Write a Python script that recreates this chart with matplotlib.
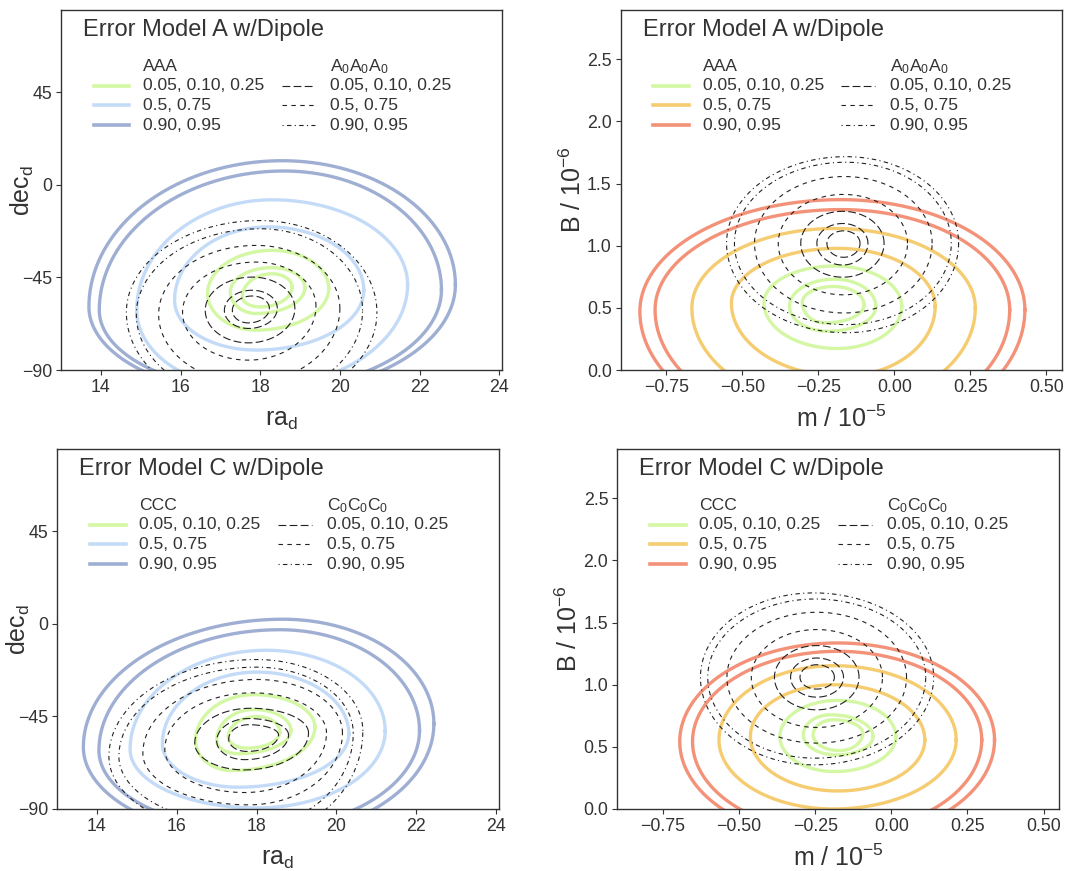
import numpy as np
import matplotlib
matplotlib.use('Agg')
import matplotlib.pyplot as plt

plt.rcParams['font.family'] = 'Liberation Sans'
plt.rcParams['mathtext.fontset'] = 'custom'
plt.rcParams['mathtext.rm'] = 'Liberation Sans'
plt.rcParams['mathtext.it'] = 'Liberation Sans:italic'

# credible levels of the contours, inner to outer
levels = [0.05, 0.10, 0.25, 0.5, 0.75, 0.90, 0.95]

# each contour read off the picture as its four extreme points:
# xl, yl (left), xr, yr (right), xt, yt (top), xb, yb (bottom)
A_radec_solid = [
    [17.55, -54.5, 18.80, -49.6, 18.30, -43.2, 18.00, -59.3],
    [17.25, -52.0, 19.12, -50.0, 18.30, -40.2, 17.90, -62.5],
    [16.68, -52.8, 19.72, -50.4, 18.30, -31.8, 17.90, -70.6],
    [15.85, -56.1, 20.60, -51.2, 18.20, -20.4, 17.90, -80.3],
    [14.90, -60.9, 21.70, -48.5, 18.30, -7.2, 17.80, -99.0],
    [13.96, -60.9, 22.55, -51.0, 18.60, 6.8, 18.00, -100.0],
    [13.70, -59.3, 22.90, -48.5, 18.55, 11.8, 18.00, -102.0],
]
A_radec_dash = [
    [17.30, -61.0, 18.23, -60.0, 17.80, -54.0, 17.70, -67.1],
    [17.10, -61.0, 18.43, -60.0, 17.80, -51.2, 17.70, -69.8],
    [16.62, -61.0, 18.87, -60.0, 17.80, -44.8, 17.70, -76.8],
    [16.05, -62.0, 19.40, -59.0, 17.90, -37.5, 17.70, -85.2],
    [15.45, -63.0, 20.00, -60.0, 17.90, -29.4, 17.70, -96.0],
    [14.89, -63.0, 20.57, -61.0, 18.00, -21.3, 17.70, -104.0],
    [14.64, -62.0, 20.93, -62.0, 18.00, -17.3, 17.70, -108.0],
]
A_mB_solid = [
    [-0.303, 0.544, -0.100, 0.525, -0.200, 0.672, -0.229, 0.379],
    [-0.345, 0.512, -0.061, 0.512, -0.197, 0.731, -0.218, 0.312],
    [-0.429, 0.539, 0.024, 0.512, -0.197, 0.837, -0.187, 0.173],
    [-0.536, 0.539, 0.134, 0.512, -0.187, 0.979, -0.170, -0.050],
    [-0.666, 0.499, 0.266, 0.499, -0.197, 1.139, -0.190, -0.300],
    [-0.787, 0.485, 0.379, 0.485, -0.176, 1.291, -0.180, -0.480],
    [-0.837, 0.472, 0.429, 0.485, -0.176, 1.371, -0.180, -0.550],
]
A_mB_dash = [
    [-0.222, 1.02, -0.113, 1.02, -0.167, 1.120, -0.167, 0.907],
    [-0.255, 1.02, -0.087, 1.02, -0.170, 1.179, -0.170, 0.845],
    [-0.308, 1.02, -0.034, 1.02, -0.170, 1.277, -0.170, 0.747],
    [-0.382, 1.02, 0.043, 1.02, -0.167, 1.413, -0.167, 0.605],
    [-0.460, 1.02, 0.124, 1.02, -0.165, 1.557, -0.165, 0.459],
    [-0.526, 1.02, 0.187, 1.02, -0.160, 1.672, -0.160, 0.365],
    [-0.552, 1.02, 0.211, 1.02, -0.160, 1.717, -0.160, 0.300],
]
C_radec_solid = [
    [17.29, -55.0, 18.58, -52.6, 18.01, -45.0, 17.77, -60.4],
    [17.00, -56.7, 18.86, -51.8, 17.93, -41.6, 17.53, -63.1],
    [16.47, -56.7, 19.46, -50.2, 17.93, -34.4, 17.37, -71.3],
    [15.64, -58.3, 20.31, -53.4, 18.01, -23.4, 17.53, -79.4],
    [14.83, -61.0, 21.22, -52.0, 18.25, -12.8, 18.00, -89.5],
    [14.05, -61.5, 22.08, -51.8, 18.58, -2.8, 18.00, -100.0],
    [13.66, -59.9, 22.44, -48.5, 18.66, 2.3, 18.00, -104.0],
]
C_radec_dash = [
    [17.30, -56.0, 18.55, -54.0, 17.80, -49.0, 17.75, -62.0],
    [17.00, -57.0, 18.80, -54.0, 17.80, -46.0, 17.70, -66.0],
    [16.45, -58.0, 19.30, -53.0, 17.85, -41.0, 17.70, -71.0],
    [15.70, -61.0, 19.75, -53.0, 17.90, -33.5, 17.70, -82.0],
    [15.15, -63.0, 20.15, -53.0, 18.00, -27.0, 17.80, -88.0],
    [14.55, -64.5, 20.42, -53.0, 18.00, -21.0, 17.90, -98.0],
    [14.30, -64.5, 20.66, -52.0, 18.00, -17.3, 17.90, -103.0],
]
C_mB_solid = [
    [-0.257, 0.597, -0.094, 0.610, -0.190, 0.718, -0.170, 0.470],
    [-0.289, 0.597, -0.060, 0.583, -0.200, 0.758, -0.180, 0.435],
    [-0.366, 0.583, 0.015, 0.583, -0.176, 0.874, -0.187, 0.301],
    [-0.463, 0.583, 0.110, 0.556, -0.187, 1.000, -0.176, 0.145],
    [-0.566, 0.556, 0.213, 0.556, -0.187, 1.153, -0.190, 0.000],
    [-0.653, 0.543, 0.297, 0.556, -0.176, 1.269, -0.180, -0.190],
    [-0.695, 0.543, 0.339, 0.556, -0.176, 1.336, -0.180, -0.250],
]
C_mB_dash = [
    [-0.300, 1.06, -0.187, 1.06, -0.245, 1.161, -0.245, 0.965],
    [-0.331, 1.06, -0.157, 1.06, -0.245, 1.215, -0.245, 0.900],
    [-0.384, 1.06, -0.106, 1.06, -0.245, 1.315, -0.245, 0.798],
    [-0.460, 1.06, -0.029, 1.06, -0.245, 1.444, -0.245, 0.656],
    [-0.540, 1.06, 0.050, 1.06, -0.245, 1.583, -0.245, 0.530],
    [-0.603, 1.06, 0.113, 1.06, -0.250, 1.690, -0.250, 0.409],
    [-0.627, 1.06, 0.139, 1.06, -0.255, 1.739, -0.255, 0.355],
]

legend_labels = ['0.05, 0.10, 0.25', '0.5, 0.75', '0.90, 0.95']
radec_colors = ['#d4f7a4', '#c4dbf7', '#9fafd3']
mB_colors = ['#d4f7a4', '#f6cc70', '#f39278']
group_of_level = [0, 0, 0, 1, 1, 2, 2]
dash_styles = [(0, (7, 3)), (0, (4, 4)), (0, (1, 3, 4, 3))]

ink = '#333333'


def contour_curve(xl, yl, xr, yr, xt, yt, xb, yb, n=80):
    # four quarter-ellipse arcs joining the extreme points
    t = np.linspace(0, np.pi / 2, n)
    c, s = np.cos(t), np.sin(t)
    x = np.concatenate([xt + (xr - xt) * c, xt - (xt - xl) * s,
                        xb - (xb - xl) * c, xb + (xr - xb) * s])
    y = np.concatenate([yr + (yt - yr) * s, yl + (yt - yl) * c,
                        yl - (yl - yb) * s, yr - (yr - yb) * c])
    return x, y


def draw_panel(ax, solid, dashed, colors, title, head1, head2):
    for i, row in enumerate(solid):
        x, y = contour_curve(*row)
        ax.plot(x, y, color=colors[group_of_level[i]], lw=2.4)
    for i, row in enumerate(dashed):
        x, y = contour_curve(*row)
        ax.plot(x, y, color='#222222', lw=0.8, linestyle=dash_styles[group_of_level[i]])

    ax.text(0.05, 0.944, title, transform=ax.transAxes, fontsize=17,
            ha='left', va='center', color=ink)
    ax.text(0.186, 0.842, head1, transform=ax.transAxes, fontsize=12.6,
            ha='left', va='center', color=ink)
    ax.text(0.61, 0.842, head2, transform=ax.transAxes, fontsize=12.6,
            ha='left', va='center', color=ink)
    rows_y = [0.790, 0.735, 0.680]
    for g in range(3):
        ax.plot([0.074, 0.155], [rows_y[g]] * 2, transform=ax.transAxes,
                color=colors[g], lw=2.6)
        ax.text(0.186, rows_y[g], legend_labels[g], transform=ax.transAxes,
                fontsize=12.6, ha='left', va='center', color=ink)
        ax.plot([0.50, 0.577], [rows_y[g]] * 2, transform=ax.transAxes,
                color='#222222', lw=0.8, linestyle=dash_styles[g])
        ax.text(0.61, rows_y[g], legend_labels[g], transform=ax.transAxes,
                fontsize=12.6, ha='left', va='center', color=ink)

    for sp in ax.spines.values():
        sp.set_color(ink)
        sp.set_linewidth(1.0)
    ax.tick_params(direction='out', length=3.5, width=0.8, colors=ink,
                   labelsize=12.8, pad=3)


def style_radec(ax):
    ax.set_xlim(13.0, 24.07)
    ax.set_ylim(-90, 85.1)
    ax.set_xticks([14, 16, 18, 20, 22, 24])
    ax.set_yticks([-90, -45, 0, 45])
    ax.set_yticklabels(['\u221290', '\u221245', '0', '45'])
    ax.set_xlabel('ra$_{\\rm d}$', fontsize=18, color=ink)
    ax.set_ylabel('dec$_{\\rm d}$', fontsize=18, color=ink)
    ax.xaxis.set_label_coords(0.5, -0.105)
    ax.yaxis.set_label_coords(-0.056, 0.5)


def style_mB(ax):
    ax.set_xlim(-0.9, 0.551)
    ax.set_ylim(0, 2.897)
    xt = [-0.75, -0.5, -0.25, 0.0, 0.25, 0.5]
    ax.set_xticks(xt)
    ax.set_xticklabels([('%.2f' % v).replace('-', '\u2212') for v in xt])
    yt = [0.0, 0.5, 1.0, 1.5, 2.0, 2.5]
    ax.set_yticks(yt)
    ax.set_yticklabels(['%.1f' % v for v in yt])
    ax.set_xlabel('m / 10$^{-5}$', fontsize=18, color=ink)
    ax.set_ylabel('B / 10$^{-6}$', fontsize=18, color=ink)
    ax.xaxis.set_label_coords(0.5, -0.1)
    ax.yaxis.set_label_coords(-0.079, 0.5)


fig = plt.figure(figsize=(10.88, 8.71), dpi=100)
ax1 = fig.add_axes([0.0561, 0.5752, 0.4053, 0.4133])
ax2 = fig.add_axes([0.5705, 0.5752, 0.4056, 0.4133])
ax3 = fig.add_axes([0.0524, 0.0712, 0.4062, 0.4133])
ax4 = fig.add_axes([0.5674, 0.0712, 0.4060, 0.4133])

draw_panel(ax1, A_radec_solid, A_radec_dash, radec_colors,
           'Error Model A w/Dipole', 'AAA', 'A$_0$A$_0$A$_0$')
style_radec(ax1)
draw_panel(ax2, A_mB_solid, A_mB_dash, mB_colors,
           'Error Model A w/Dipole', 'AAA', 'A$_0$A$_0$A$_0$')
style_mB(ax2)
draw_panel(ax3, C_radec_solid, C_radec_dash, radec_colors,
           'Error Model C w/Dipole', 'CCC', 'C$_0$C$_0$C$_0$')
style_radec(ax3)
draw_panel(ax4, C_mB_solid, C_mB_dash, mB_colors,
           'Error Model C w/Dipole', 'CCC', 'C$_0$C$_0$C$_0$')
style_mB(ax4)

fig.savefig('out.png', dpi=100)
